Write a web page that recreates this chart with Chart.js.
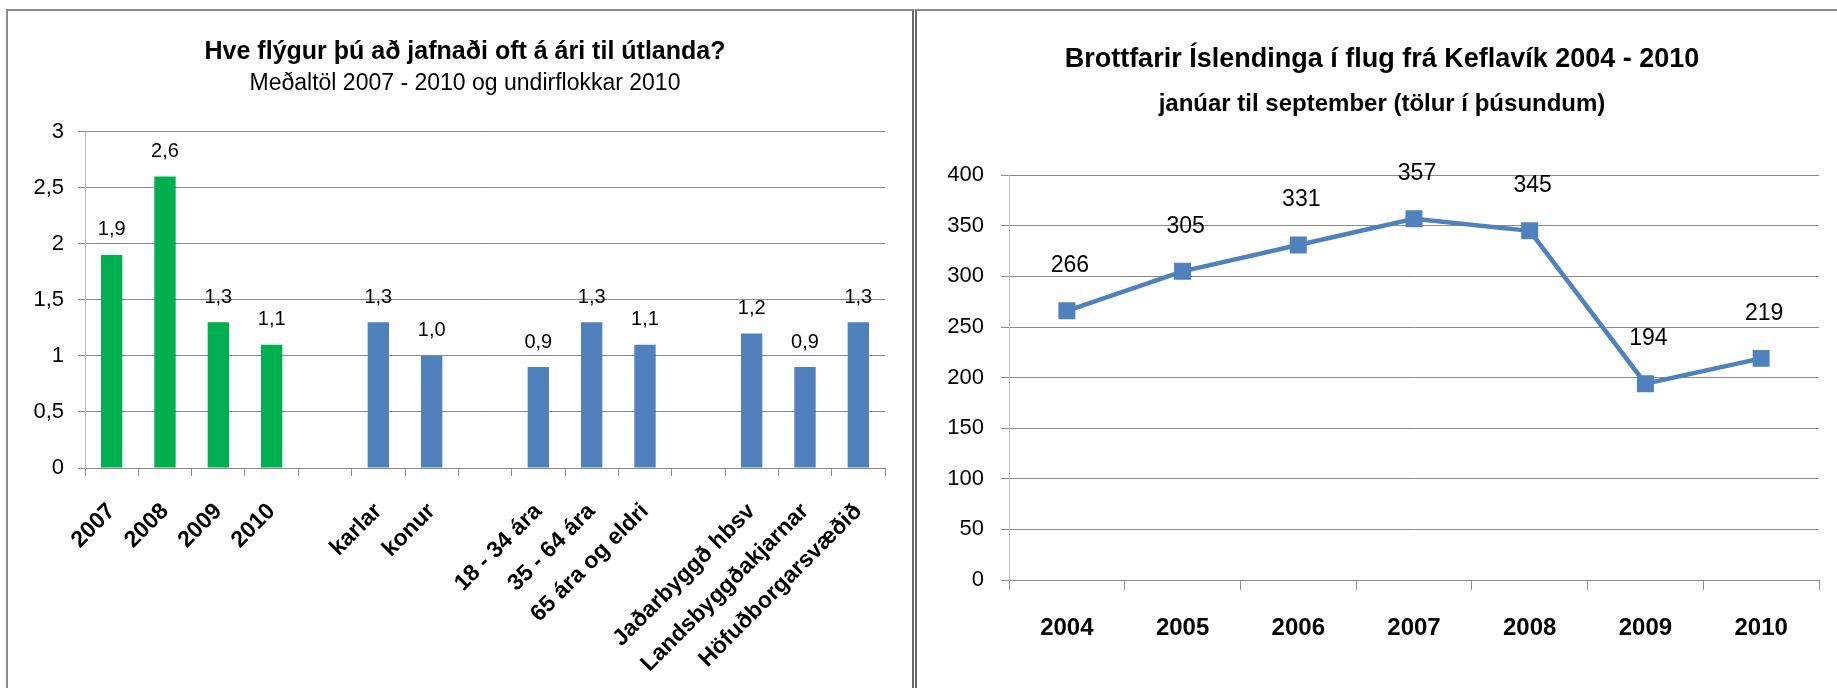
<!DOCTYPE html>
<html>
<head>
<meta charset="utf-8">
<script src="https://cdn.jsdelivr.net/npm/chart.js@4.4.1/dist/chart.umd.min.js"></script>
<style>
    html, body { margin: 0; padding: 0; background: #fff; overflow: hidden; }
    body { width: 1837px; height: 688px; position: relative; }
    .frame { position: absolute; border: 2px solid #8c8c8c; border-bottom: none; box-sizing: border-box; }
    #leftFrame { left: 6px; top: 9px; width: 908px; height: 700px; border-right-color: #6a6a6a; }
    #rightFrame { left: 915px; top: 9px; width: 930px; height: 700px; border-left-color: #6a6a6a; }
    canvas { position: absolute; }
    #flightsChart { left: 9px; top: 12px; }
    #departuresChart { left: 918px; top: 12px; }
</style>
</head>
<body>
<div class="frame" id="leftFrame"></div>
<div class="frame" id="rightFrame"></div>
<canvas id="flightsChart" width="902" height="676"></canvas>
<canvas id="departuresChart" width="919" height="676"></canvas>

<script>
// left chart: average flights per year abroad, 2007-2010 and 2010 sub-groups
const flightCategories = [
    "2007", "2008", "2009", "2010", "",
    "karlar", "konur", "",
    "18 - 34 ára", "35 - 64 ára", "65 ára og eldri", "",
    "Jaðarbyggð hbsv", "Landsbyggðakjarnar", "Höfuðborgarsvæðið"
];
const flightAverages = [1.9, 2.6, 1.3, 1.1, null, 1.3, 1.0, null, 0.9, 1.3, 1.1, null, 1.2, 0.9, 1.3];
const flightTicks = [0, 0.5, 1, 1.5, 2, 2.5, 3];

// right chart: departures from Keflavík, jan-sep, thousands
const departureYears = ["2004", "2005", "2006", "2007", "2008", "2009", "2010"];
const departureCounts = [266, 305, 331, 357, 345, 194, 219];
const departureTicks = [0, 50, 100, 150, 200, 250, 300, 350, 400];

const GREEN = "#00B050";
const BLUE = "#4F81BD";
const SANS = "'Liberation Sans', Arial, sans-serif";

const isl = v => String(v).replace(".", ",");

// draws value above each bar / point
const valueLabels = {
    id: "valueLabels",
    afterDatasetsDraw(chart, args, opts) {
        const ctx = chart.ctx;
        ctx.save();
        ctx.font = opts.font;
        ctx.fillStyle = "#000";
        ctx.textAlign = "center";
        ctx.textBaseline = "middle";
        chart.data.datasets.forEach((ds, i) => {
            chart.getDatasetMeta(i).data.forEach((el, j) => {
                const v = ds.data[j];
                if (v === null || v === undefined) return;
                const txt = opts.decimals ? isl(v.toFixed(opts.decimals)) : String(v);
                ctx.fillText(txt, el.x + opts.dx, el.y - opts.offset);
            });
        });
        ctx.restore();
    }
};

function tickValues(list) {
    return function (scale) {
        scale.ticks = list.map(v => ({ value: v }));
    };
}

new Chart(document.getElementById("flightsChart"), {
    type: "bar",
    data: {
        labels: flightCategories,
        datasets: [{
            data: flightAverages,
            backgroundColor: flightAverages.map((v, i) => i < 4 ? GREEN : BLUE),
            categoryPercentage: 1,
            barPercentage: 0.4
        }]
    },
    plugins: [valueLabels],
    options: {
        responsive: false,
        animation: false,
        layout: { padding: { left: 20, right: 10, top: 0, bottom: 0 } },
        plugins: {
            legend: { display: false },
            tooltip: { enabled: false },
            title: {
                display: true,
                text: "Hve flýgur þú að jafnaði oft á ári til útlanda?",
                color: "#000",
                font: { family: SANS, size: 25, weight: "bold" },
                padding: { top: 25, bottom: 0 }
            },
            subtitle: {
                display: true,
                text: "Meðaltöl 2007 - 2010 og undirflokkar 2010",
                color: "#000",
                font: { family: SANS, size: 23, weight: "normal" },
                padding: { top: 3, bottom: 34 }
            },
            valueLabels: { font: "20px " + SANS, decimals: 1, dx: 0, offset: 25 }
        },
        scales: {
            x: {
                grid: { drawOnChartArea: false, tickLength: 8, color: "#8a8a8a" },
                border: { color: "#8a8a8a" },
                ticks: {
                    autoSkip: false,
                    minRotation: 45,
                    maxRotation: 45,
                    color: "#000",
                    padding: 22,
                    font: { family: SANS, size: 23, weight: "bold" }
                },
                afterFit(scale) { scale.height = 220; }
            },
            y: {
                min: 0,
                max: 3,
                afterBuildTicks: tickValues(flightTicks),
                grid: { color: "#8a8a8a", tickLength: 7 },
                border: { color: "#b8b8b8" },
                ticks: {
                    color: "#000",
                    padding: 14,
                    font: { family: SANS, size: 22 },
                    callback: v => isl(v)
                },
                afterFit(scale) { scale.width = 56; }
            },
            // empty spacer on the right so the title centres like the original
            yPad: {
                position: "right",
                grid: { display: false },
                border: { display: false },
                ticks: { display: false },
                afterFit(scale) { scale.width = 16; }
            }
        }
    }
});

new Chart(document.getElementById("departuresChart"), {
    type: "line",
    data: {
        labels: departureYears,
        datasets: [{
            data: departureCounts,
            borderColor: BLUE,
            backgroundColor: BLUE,
            borderWidth: 4.5,
            tension: 0,
            pointStyle: "rect",
            pointRadius: 12,
            pointBorderWidth: 0
        }]
    },
    plugins: [valueLabels],
    options: {
        responsive: false,
        animation: false,
        layout: { padding: { left: 27, right: 18, top: 0, bottom: 0 } },
        plugins: {
            legend: { display: false },
            tooltip: { enabled: false },
            title: {
                display: true,
                text: "Brottfarir Íslendinga í flug frá Keflavík 2004 - 2010",
                color: "#000",
                font: { family: SANS, size: 27, weight: "bold" },
                padding: { top: 31, bottom: 0 }
            },
            subtitle: {
                display: true,
                text: "janúar til september (tölur í þúsundum)",
                color: "#000",
                font: { family: SANS, size: 24, weight: "bold" },
                padding: { top: 15, bottom: 56 }
            },
            valueLabels: { font: "23px " + SANS, decimals: 0, dx: 3, offset: 45 }
        },
        scales: {
            x: {
                offset: true,
                grid: { drawOnChartArea: false, offset: true, tickLength: 10, color: "#8a8a8a" },
                border: { color: "#8a8a8a" },
                ticks: {
                    color: "#000",
                    padding: 24,
                    font: { family: SANS, size: 24, weight: "bold" }
                },
                afterFit(scale) { scale.height = 108; }
            },
            y: {
                min: 0,
                max: 400,
                afterBuildTicks: tickValues(departureTicks),
                grid: { color: "#8a8a8a", tickLength: 8 },
                border: { color: "#b8b8b8" },
                ticks: {
                    color: "#000",
                    padding: 17,
                    font: { family: SANS, size: 22 }
                },
                afterFit(scale) { scale.width = 64; }
            }
        }
    }
});
</script>
</body>
</html>
